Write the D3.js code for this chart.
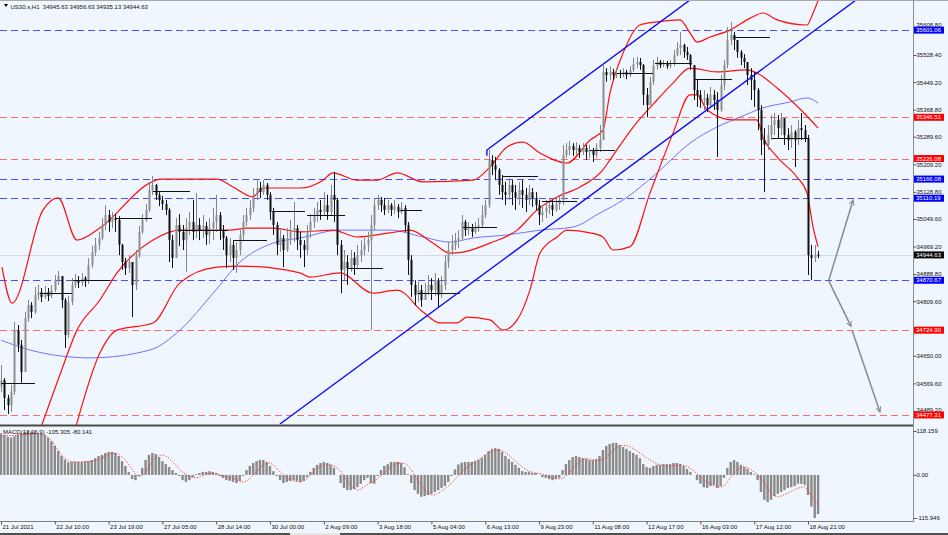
<!DOCTYPE html>
<html><head><meta charset="utf-8">
<script src="https://cdn.jsdelivr.net/npm/d3@7/dist/d3.min.js"></script>
<style>html,body{margin:0;padding:0;background:#f0f6fd;}svg{display:block;font-family:"Liberation Sans",Arial,sans-serif;}</style>
</head><body><svg id="c" width="948" height="535"></svg>
<script>
// ---------------- DATA ----------------
const symbolLabel = "US30.s,H1";
const lastOHLC = ["34945.63", "34956.63", "34935.13", "34944.63"];
const macdTitle = "MACD(12,26,9) -105.305 -80.141";
const dateLabels = ["21 Jul 2021","22 Jul 10:00","23 Jul 19:00","27 Jul 05:00","28 Jul 14:00","30 Jul 00:00","2 Aug 09:00","3 Aug 18:00","5 Aug 04:00","6 Aug 13:00","9 Aug 23:00","11 Aug 08:00","12 Aug 17:00","16 Aug 03:00","17 Aug 12:00","18 Aug 21:00"];
const dateTickBars = [0,16,32,48,64,80,96,112,128,144,160,176,192,208,224,240];
const priceTicks = [35608.80,35528.40,35449.20,35368.80,35289.60,35209.20,35128.80,35049.60,34969.20,34888.80,34809.60,34729.20,34650.00,34569.60,34489.20];
const macdTicks = [118.159, 0, -115.946];
const macdTickLabels = ["118.159","0.00","-115.946"];
const blueLevels = [35601.06, 35166.08, 35110.19, 34870.67];
const redLevels = [35346.51, 35226.08, 34724.90, 34477.31];
const currentPrice = 34944.63;

const opens = [34560,34579,34527,34506,34544,34725,34682,34603,34760,34798,34778,34828,34836,34822,34836,34825,34842,34871,34883,34813,34711,34807,34857,34871,34863,34877,34868,34915,34953,34974,34994,35032,35061,35041,35052,35047,34974,34924,34906,34924,34857,34944,35012,35047,35076,35134,35149,35120,35105,35093,35076,34988,34936,35032,35012,34988,35023,35041,35012,35032,35017,35029,35003,35023,35041,35061,35017,34994,34944,34974,34936,34959,35003,35041,35061,35082,35120,35140,35128,35149,35120,35070,35032,34974,34994,34959,34994,35012,35023,34988,34974,34959,35012,35041,35061,35076,35070,35090,35070,35120,35105,34974,34901,34924,34906,34936,34915,34944,34959,34974,34988,35032,35090,35105,35090,35076,35090,35076,35085,35070,35082,35032,34930,34857,34828,34842,34813,34836,34857,34842,34871,34828,34857,34924,34959,34974,34988,34994,35041,35017,35023,35012,35023,35032,35061,35090,35222,35207,35193,35149,35128,35120,35149,35128,35111,35134,35120,35105,35128,35111,35090,35061,35070,35082,35090,35076,35093,35105,35236,35251,35263,35251,35257,35245,35257,35245,35251,35236,35257,35280,35479,35470,35479,35470,35476,35473,35479,35470,35485,35502,35508,35499,35412,35382,35450,35496,35508,35499,35505,35496,35502,35528,35549,35558,35537,35528,35499,35426,35412,35397,35403,35382,35412,35397,35368,35441,35499,35572,35587,35572,35537,35520,35508,35470,35455,35426,35368,35280,35266,35295,35324,35339,35315,35344,35295,35280,35304,35280,35315,35309,35286,34944,34936,34945.63];
const highs = [34623,34585,34536,34565,34749,34740,34696,34778,34813,34807,34851,34857,34848,34854,34848,34857,34886,34898,34883,34819,34825,34877,34889,34883,34892,34883,34936,34971,34994,35012,35052,35090,35076,35070,35064,35058,34977,34936,34944,34924,34959,35029,35064,35093,35158,35175,35152,35128,35117,35105,35082,35003,35052,35064,35032,35052,35070,35105,35125,35052,35061,35041,35052,35082,35120,35070,35032,35000,34994,34988,34982,35017,35061,35082,35105,35140,35166,35158,35163,35155,35128,35082,35041,35017,35003,35023,35047,35099,35032,35012,34988,35032,35064,35082,35099,35105,35128,35120,35149,35187,35111,34988,34959,34944,34959,34953,34974,34988,34994,35012,35061,35111,35120,35114,35111,35105,35096,35105,35093,35099,35090,35041,34944,34871,34866,34857,34863,34886,34877,34892,34877,34883,34944,34982,35003,35009,35017,35061,35047,35041,35035,35041,35052,35090,35105,35251,35236,35231,35198,35178,35158,35169,35163,35149,35158,35163,35140,35149,35140,35128,35105,35090,35105,35111,35105,35111,35120,35266,35271,35277,35271,35274,35266,35271,35266,35266,35257,35271,35324,35499,35490,35496,35488,35490,35485,35490,35485,35496,35520,35523,35520,35502,35432,35464,35514,35523,35514,35514,35511,35514,35543,35566,35596,35561,35552,35531,35499,35455,35426,35426,35415,35435,35426,35420,35470,35514,35610,35625,35596,35572,35543,35531,35508,35490,35479,35432,35382,35315,35324,35353,35359,35353,35359,35339,35315,35324,35309,35339,35359,35324,35295,34974,34974,34956.63];
const lows = [34544,34492,34480,34486,34536,34661,34571,34609,34749,34760,34772,34813,34807,34816,34810,34819,34836,34857,34790,34673,34702,34798,34848,34848,34854,34851,34860,34906,34941,34959,34988,35017,35012,35023,35012,34944,34901,34886,34892,34763,34842,34936,35006,35041,35070,35120,35105,35087,35076,35061,34924,34906,34936,34971,34959,34895,35003,34988,34994,34988,34994,34974,34977,34988,35012,34988,34959,34906,34924,34901,34892,34944,34988,35029,35047,35070,35105,35111,35120,35105,35047,35003,34944,34953,34909,34953,34974,34982,34959,34936,34909,34944,34994,35023,35041,35047,35061,35047,35061,35041,34944,34833,34871,34857,34895,34886,34906,34924,34944,34953,34725,35017,35076,35070,35061,35067,35058,35064,35052,35064,35012,34886,34822,34798,34807,34793,34813,34828,34813,34825,34790,34819,34842,34906,34944,34959,34965,34988,35000,35003,34997,35006,35012,35023,35052,35082,35178,35163,35120,35105,35090,35105,35090,35076,35090,35082,35070,35090,35085,35076,35032,35041,35052,35064,35058,35070,35076,35090,35228,35236,35234,35236,35228,35236,35222,35228,35216,35228,35245,35286,35450,35455,35455,35461,35461,35464,35458,35464,35479,35490,35485,35382,35347,35397,35441,35485,35490,35493,35488,35490,35496,35525,35528,35520,35514,35485,35397,35377,35374,35368,35362,35374,35368,35231,35362,35426,35490,35558,35543,35520,35499,35490,35441,35397,35377,35309,35236,35128,35251,35280,35295,35286,35295,35266,35251,35257,35201,35266,35280,35274,34886,34871,34924,34935.13];
const closes = [34579,34527,34506,34544,34725,34682,34603,34760,34798,34778,34828,34836,34822,34836,34825,34842,34871,34883,34813,34711,34807,34857,34871,34863,34877,34868,34915,34953,34974,34994,35032,35061,35041,35052,35047,34974,34924,34906,34924,34857,34944,35012,35047,35076,35134,35149,35120,35105,35093,35076,34988,34936,35032,35012,34988,35023,35041,35012,35032,35017,35029,35003,35023,35041,35061,35017,34994,34944,34974,34936,34959,35003,35041,35061,35082,35120,35140,35128,35149,35120,35070,35032,34974,34994,34959,34994,35012,35023,34988,34974,34959,35012,35041,35061,35076,35070,35090,35070,35120,35105,34974,34901,34924,34906,34936,34915,34944,34959,34974,34988,35032,35090,35105,35090,35076,35090,35076,35085,35070,35082,35032,34930,34857,34828,34842,34813,34836,34857,34842,34871,34828,34857,34924,34959,34974,34988,34994,35041,35017,35023,35012,35023,35032,35061,35090,35222,35207,35193,35149,35128,35120,35149,35128,35111,35134,35120,35105,35128,35111,35090,35061,35070,35082,35090,35076,35093,35105,35236,35251,35263,35251,35257,35245,35257,35245,35251,35236,35257,35280,35479,35470,35479,35470,35476,35473,35479,35470,35485,35502,35508,35499,35412,35382,35450,35496,35508,35499,35505,35496,35502,35528,35549,35558,35537,35528,35499,35426,35412,35397,35403,35382,35412,35397,35368,35441,35499,35572,35587,35572,35537,35520,35508,35470,35455,35426,35368,35280,35266,35295,35324,35339,35315,35344,35295,35280,35304,35280,35315,35309,35286,34944,34936,34945.63,34944.63];

const macdHist = [112,108,103,101,104,109,112,115,118.159,117,115,113,111,108,100,90,78,64,51,41,34,35,35,35,35,37,37,40,45,51,54,59,62,62,59,51,37,24,8,-11,-14,-3,19,40,54,59,56,48,37,29,21,13,5,-3,-14,-19,-14,-6,2,5,8,8,10,8,5,-3,-8,-14,-16,-19,-22,-16,-3,13,24,32,37,40,40,35,24,10,-3,-14,-22,-19,-16,-14,-16,-19,-16,-6,8,19,27,32,35,32,27,19,0,-22,-35,-41,-41,-38,-33,-24,-14,-8,-22,-24,-3,13,24,29,35,35,35,32,21,2,-22,-41,-51,-59,-57,-54,-51,-46,-41,-35,-30,-19,-3,15,28,33,35,35,35,37,40,45,54,64,70,72,70,62,51,43,35,27,19,10,8,8,5,5,0,-6,-8,-11,-14,-11,-8,13,29,40,48,51,48,45,43,40,40,43,51,67,78,83,86,86,80,75,70,64,59,54,45,29,21,19,24,27,27,29,29,29,32,32,29,24,16,8,0,-14,-24,-33,-35,-30,-27,-35,-30,-8,19,35,40,35,27,21,16,8,2,-14,-46,-67,-73,-67,-57,-51,-46,-41,-35,-33,-30,-24,-24,-27,-54,-85,-115.946,-105.305];
const macdSignal = [104,105,106,106,106,106,107,108,109,110,111,111,110,108,100,92,80,66,54,44,38,36,35,35,35,35,36,37,38,41,45,50,55,58,58,55,49,40,28,15,2,-4,-2,8,22,36,46,52,54,51,45,36,26,16,7,1,-4,-7,-8,-6,-2,2,4,5,4,1,-2,-5,-7,-9,-13,-17,-19,-17,-10,-1,10,20,27,32,32,27,18,8,-1,-8,-13,-16,-18,-19,-16,-10,-1,8,16,23,27,29,28,24,18,10,-2,-15,-28,-37,-41,-38,-32,-26,-21,-17,-10,-2,6,14,22,28,31,32,31,25,14,0,-15,-28,-40,-49,-54,-54,-50,-44,-37,-30,-22,-12,-3,7,16,24,31,36,41,47,53,58,63,66,67,65,60,53,45,37,29,21,15,10,7,5,4,2,-1,-5,-8,-10,-11,-9,-3,6,16,26,35,42,44,43,41,39,39,42,48,56,65,73,78,80,79,76,71,65,59,53,46,40,35,30,27,25,24,24,25,26,27,26,23,18,11,3,-5,-13,-19,-24,-29,-32,-33,-30,-20,-6,6,14,20,22,20,15,8,1,-10,-22,-35,-47,-56,-59,-57,-53,-49,-45,-40,-36,-33,-32,-40,-55,-70,-80.141];

// indicator curves: [bar index, price]
const bbUpper = [[0.3,34909],[3.3,34804],[12.5,35076],[17,35111],[22.6,34988],[29.4,35023],[44.3,35155],[47.3,35166],[64.2,35166],[69,35143],[74.9,35114],[77.9,35140],[88.9,35140],[95.8,35163],[98.7,35184],[105.9,35163],[111.8,35163],[117.8,35184],[125.5,35158],[140.4,35163],[145.4,35201],[150.5,35260],[155.2,35274],[160.3,35242],[168.3,35213],[175.2,35280],[179,35309],[181.1,35417],[185,35534],[190,35616],[195.1,35625],[201.9,35631],[204.9,35593],[207,35566],[210.9,35581],[216.8,35601],[222.8,35636],[226.6,35651],[230.8,35631],[239.7,35616],[241.5,35651],[243.5,35700]];
const bbMiddle = [[11.6,34433],[17.5,34594],[22.6,34725],[29.4,34813],[34.5,34892],[45.2,34988],[53.2,35017],[68.1,35017],[73.2,35023],[80.9,35023],[88.9,35012],[98.7,35017],[105.9,34997],[115.7,35009],[121.6,35017],[128.5,34979],[133.5,34950],[137.4,34953],[145.4,34979],[153.5,35017],[159.4,35076],[165.4,35114],[172.2,35143],[179,35193],[181.1,35222],[188,35318],[195.1,35397],[199.9,35447],[204.9,35490],[212.9,35479],[221.8,35485],[224.8,35476],[230.8,35432],[238.5,35362],[243,35315]];
const bbLower = [[22,34433],[29.4,34658],[34.5,34725],[45.2,34746],[53.2,34863],[64.2,34909],[71.1,34912],[88.9,34892],[91.9,34880],[100.8,34892],[110.6,34833],[117.8,34842],[125.5,34778],[130.6,34746],[135.6,34746],[138.6,34763],[145.4,34755],[149.3,34725],[153.5,34755],[157.3,34842],[160.3,34950],[165.4,34997],[168.3,35017],[175.2,35009],[179,34997],[182,34959],[187,34968],[193,35125],[199.9,35301],[204.9,35412],[207,35412],[210,35368],[217.7,35339],[224.8,35339],[226.6,35289],[230.8,35231],[236.7,35172],[239.7,35125],[241.5,35026],[243,34968]];
const maBlue = [[0,34696],[8.6,34667],[26.5,34644],[44.3,34667],[53.2,34725],[63.1,34833],[71.1,34924],[80.9,34979],[88.9,34994],[100.8,35017],[115.7,35017],[125.5,34997],[133.5,34982],[140.4,34994],[150.5,35003],[160.3,35017],[170.1,35026],[178.1,35067],[185,35105],[195.1,35184],[204.9,35271],[212.9,35318],[219.8,35347],[226.6,35374],[234.6,35391],[239.7,35403],[243,35388]];
// short black daily level segments: [from bar, to bar, price]
const dayLines = [[0,10.1,34571],[11.6,21.1,34833],[21.4,32.4,34871],[33.9,44.9,35052],[45.2,56.2,35131],[53.2,67.5,35017],[69,79.1,34988],[80.6,90.4,35073],[91,102.3,35061],[103.2,113.6,34906],[118.7,125.2,35076],[124,136.5,34833],[137.4,147.5,35026],[149.3,159.7,35175],[160.9,171.3,35102],[175.2,182.6,35251],[183.2,193.9,35476],[194.5,205.5,35505],[206.4,217.4,35458],[217.7,228.7,35581],[229.3,240,35286]];
const trendLower = [[82.97,34451],[254.3,35689]];
const trendUpper = [[144.5,35234],[144.5,35251],[204.9,35689]];
const arrowPaths = [[[246.2,34871],[253.4,35105]],[[246.2,34868],[252.8,34736]],[[253.1,34725],[261.4,34486]]];

// ---------------- DRAW ----------------
const W = 948, H = 535, plotR = 913;
const svg = d3.select("#c");
const bg = "#f0f6fd";
const x = d3.scaleLinear().domain([0, 243]).range([1, 818.1]);
const y = d3.scaleLinear().domain([34448, 35689]).range([425, 0]);
const ym = d3.scaleLinear().domain([-125.4, 131.6]).range([521.5, 426]);
const snap = v => Math.round(v) + 0.5;

svg.append("rect").attr("width", W).attr("height", H).attr("fill", bg);
const defs = svg.append("defs");
defs.append("clipPath").attr("id", "cp").append("rect").attr("x", 0).attr("y", 0).attr("width", plotR).attr("height", 425);
defs.append("clipPath").attr("id", "cm").append("rect").attr("x", 0).attr("y", 426).attr("width", plotR).attr("height", 95.5);
defs.append("marker").attr("id", "ah").attr("viewBox", "0 0 8 8").attr("refX", 7).attr("refY", 4)
  .attr("markerWidth", 6).attr("markerHeight", 6).attr("orient", "auto").attr("markerUnits", "userSpaceOnUse")
  .append("path").attr("d", "M0,0.5 L7,4 L0,7.5").attr("fill", "none").attr("stroke", "#8a8a8a").attr("stroke-width", 1.3);

const gP = svg.append("g").attr("clip-path", "url(#cp)");

// horizontal levels
gP.selectAll(".lb").data(blueLevels).join("line")
  .attr("x1", 0).attr("x2", plotR).attr("y1", d => snap(y(d))).attr("y2", d => snap(y(d)))
  .attr("stroke", "#4b4bff").attr("stroke-width", 1).attr("stroke-dasharray", "7,4");
gP.selectAll(".lr").data(redLevels).join("line")
  .attr("x1", 0).attr("x2", plotR).attr("y1", d => snap(y(d))).attr("y2", d => snap(y(d)))
  .attr("stroke", "#ff6a6a").attr("stroke-width", 1).attr("stroke-dasharray", "7,4");
gP.append("line").attr("x1", 0).attr("x2", plotR).attr("y1", snap(y(currentPrice))).attr("y2", snap(y(currentPrice)))
  .attr("stroke", "#d4d9df").attr("stroke-width", 1);

// indicators
const smooth = d3.line().x(d => x(d[0])).y(d => y(d[1])).curve(d3.curveMonotoneX);
gP.append("path").attr("d", smooth(maBlue)).attr("fill", "none").attr("stroke", "#7272ff").attr("stroke-width", 1);
[bbUpper, bbMiddle, bbLower].forEach(b => {
  gP.append("path").attr("d", smooth(b)).attr("fill", "none").attr("stroke", "#ff1010").attr("stroke-width", 1.2);
});

// candles
const idx = d3.range(closes.length);
const cg = gP.append("g");
cg.selectAll("line.w").data(idx).join("line")
  .attr("x1", i => Math.round(x(i)) + 0.5).attr("x2", i => Math.round(x(i)) + 0.5)
  .attr("y1", i => y(d3.max([highs[i], opens[i], closes[i]])))
  .attr("y2", i => y(d3.min([lows[i], opens[i], closes[i]])))
  .attr("stroke", i => closes[i] >= opens[i] ? "#858585" : "#111").attr("stroke-width", 1);
cg.selectAll("rect.b").data(idx).join("rect")
  .attr("x", i => Math.round(x(i)) - 0.5).attr("width", 2)
  .attr("y", i => y(Math.max(opens[i], closes[i])))
  .attr("height", i => Math.max(1, y(Math.min(opens[i], closes[i])) - y(Math.max(opens[i], closes[i]))))
  .attr("fill", i => closes[i] >= opens[i] ? "#8e8e8e" : "#111");

// daily black segments
gP.selectAll(".dl").data(dayLines).join("line")
  .attr("x1", d => x(d[0])).attr("x2", d => x(d[1])).attr("y1", d => snap(y(d[2]))).attr("y2", d => snap(y(d[2])))
  .attr("stroke", "#111").attr("stroke-width", 1);

// trend channel
const straight = d3.line().x(d => x(d[0])).y(d => y(d[1]));
[trendLower, trendUpper].forEach(t => {
  gP.append("path").attr("d", straight(t)).attr("fill", "none").attr("stroke", "#0a0aff").attr("stroke-width", 1.4);
});

// projection arrows
arrowPaths.forEach(a => {
  gP.append("path").attr("d", straight(a)).attr("fill", "none").attr("stroke", "#8a8a8a")
    .attr("stroke-width", 1.5).attr("marker-end", "url(#ah)");
});

// MACD panel
const gM = svg.append("g").attr("clip-path", "url(#cm)");
gM.selectAll("rect.h").data(idx).join("rect")
  .attr("x", i => x(i) - 1.2).attr("width", 2.4)
  .attr("y", i => Math.min(ym(0), ym(macdHist[i])))
  .attr("height", i => Math.abs(ym(macdHist[i]) - ym(0)))
  .attr("fill", "#8a8a8a");
gM.append("path").attr("d", d3.line().x((d, i) => x(i)).y(d => ym(d))(macdSignal))
  .attr("fill", "none").attr("stroke", "#ff3030").attr("stroke-width", 1).attr("stroke-dasharray", "1.2,1.6");

// frame lines
svg.append("line").attr("x1", 0).attr("x2", W).attr("y1", 0.5).attr("y2", 0.5).attr("stroke", "#a8a8a8");
svg.append("rect").attr("x", 0).attr("y", 424.5).attr("width", plotR).attr("height", 2).attr("fill", "#4a4a4a");
svg.append("line").attr("x1", 0).attr("x2", plotR).attr("y1", 521.5).attr("y2", 521.5).attr("stroke", "#808080");
svg.append("line").attr("x1", plotR + 0.5).attr("x2", plotR + 0.5).attr("y1", 0).attr("y2", 522).attr("stroke", "#8c8c8c");
svg.append("rect").attr("x", 0).attr("y", 533).attr("width", W).attr("height", 2).attr("fill", "#505050");
svg.append("rect").attr("x", 290).attr("y", 533).attr("width", 50).attr("height", 2).attr("fill", "#e8e8e8");

// axes
const fontSize = 6;
const pAxis = d3.axisRight(y).tickValues(priceTicks).tickSize(3).tickFormat(d => d.toFixed(2));
const gpa = svg.append("g").attr("transform", `translate(${plotR + 0.5},0)`).call(pAxis);
const mAxis = d3.axisRight(ym).tickValues(macdTicks).tickSize(3).tickFormat((d, i) => macdTickLabels[i]);
const gma = svg.append("g").attr("transform", `translate(${plotR + 0.5},0)`).call(mAxis);
const dAxis = d3.axisBottom(x).tickValues(dateTickBars).tickSize(3).tickFormat((d, i) => dateLabels[i]);
const gda = svg.append("g").attr("transform", "translate(0,521.5)").call(dAxis);
[gpa, gma, gda].forEach(g => {
  g.select(".domain").remove();
  g.selectAll(".tick line").attr("stroke", "#555");
  g.selectAll(".tick text").attr("fill", "#111").attr("font-size", fontSize).attr("font-family", "Liberation Sans, Arial, sans-serif");
});
gma.selectAll(".tick text").attr("x", 3);
gda.selectAll(".tick text").attr("text-anchor", "start").attr("x", 1).attr("y", 3.5);

// level price tags (boxes in front of the scale, as in the terminal)
const tags = blueLevels.map(v => [v, "#0000ff"]).concat(redLevels.map(v => [v, "#ff0000"]), [[currentPrice, "#000000"]]);
const tagYs = tags.map(t => y(t[0]));
// nudge scale labels that are only partly covered by a tag so they stay readable above/below it
gpa.selectAll(".tick text").attr("x", 3).each(function(d) {
  const ty = y(d);
  let shift = 0;
  tagYs.forEach(gy => {
    const top = ty - 2.4, base = ty + 1.92, bTop = gy - 3.5, bBot = gy + 3.5;
    if (base > bTop && top < bBot) {
      const s = ty < gy ? (bTop - 0.4) - base : (bBot + 0.4) - top;
      if (Math.abs(s) <= 3.2) shift = s;
    }
  });
  d3.select(this).attr("y", shift);
});
const tg = svg.append("g");
tags.forEach(([v, c]) => {
  const yy = y(v);
  tg.append("rect").attr("x", 914).attr("y", yy - 3.5).attr("width", 30).attr("height", 7).attr("fill", c);
  tg.append("text").attr("x", 916).attr("y", yy + 2.2).attr("font-size", fontSize).attr("fill", "#fff").text(v.toFixed(2));
});

// header
svg.append("path").attr("d", "M4,4 L8,4 L6,7 Z").attr("fill", "#000");
svg.append("text").attr("x", 10.5).attr("y", 9).attr("font-size", fontSize).attr("fill", "#111")
  .style("white-space", "pre").text(symbolLabel + "  " + lastOHLC.join(" "));
svg.append("text").attr("x", 3).attr("y", 434).attr("font-size", fontSize).attr("fill", "#111").text(macdTitle);
</script></body></html>
